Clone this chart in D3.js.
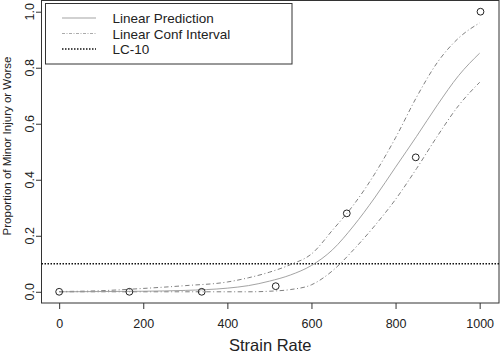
<!DOCTYPE html>
<html>
<head>
<meta charset="utf-8">
<script src="https://cdn.jsdelivr.net/npm/d3@7"></script>
<style>
  body { margin: 0; background: #fff; }
  svg { display: block; font-family: "Liberation Sans", Arial, sans-serif; }
</style>
</head>
<body>
<div id="chart"></div>
<script>
// strain grid the fitted curves were read at
var strainGrid = [0, 100, 200, 300, 400, 450, 500, 550, 600, 650, 700, 750, 800, 850, 900, 950, 1000];
var predicted = [0.000, 0.001, 0.002, 0.005, 0.013, 0.022, 0.038, 0.060, 0.094, 0.150, 0.235, 0.335, 0.445, 0.555, 0.668, 0.772, 0.852];
var upperCI = [0.001, 0.004, 0.012, 0.022, 0.035, 0.050, 0.070, 0.097, 0.135, 0.220, 0.310, 0.420, 0.550, 0.695, 0.820, 0.906, 0.960];
var lowerCI = [0.000, 0.000, 0.000, 0.000, 0.000, 0.000, 0.002, 0.008, 0.025, 0.075, 0.150, 0.235, 0.330, 0.440, 0.557, 0.665, 0.748];

// observed proportions
var obsStrain = [0, 167, 339, 515, 684, 848, 1002];
var obsProp = [0, 0, 0, 0.02, 0.28, 0.48, 1.0];

var lc10 = 0.1;

var xTicks = [0, 200, 400, 600, 800, 1000];
var yTicks = [0, 0.2, 0.4, 0.6, 0.8, 1.0];
var legendLabels = ["Linear Prediction", "Linear Conf Interval", "LC-10"];

var width = 500, height = 354;
var plotLeft = 41.5, plotRight = 499, plotTop = 0.5, plotBottom = 303;

var svg = d3.select('#chart')
  .append('svg')
  .attr('width', width)
  .attr('height', height);

var x = d3.scaleLinear().domain([-42, 1046]).range([plotLeft, plotRight]);
var y = d3.scaleLinear().domain([-0.04, 1.04]).range([plotBottom, plotTop]);

// axes
var xAxis = svg.append('g')
  .attr('transform', 'translate(0,' + plotBottom + ')')
  .call(d3.axisBottom(x).tickValues(xTicks).tickSize(6).tickPadding(10).tickFormat(d3.format('d')));
xAxis.select('.domain').remove();
xAxis.selectAll('line').attr('stroke', '#333');
xAxis.selectAll('text')
  .attr('font-size', '12.5px')
  .attr('fill', '#222')
  .attr('font-family', '"Liberation Sans", Arial, sans-serif');

var yAxis = svg.append('g')
  .attr('transform', 'translate(' + plotLeft + ',0)')
  .call(d3.axisLeft(y).tickValues(yTicks).tickSize(5.5).tickFormat(''));
yAxis.select('.domain').remove();
yAxis.selectAll('line').attr('stroke', '#333');

// rotated y tick labels, as R draws them
var yFmt = d3.format('.1f');
svg.selectAll('text.ylab')
  .data(yTicks)
  .enter()
  .append('text')
  .attr('class', 'ylab')
  .attr('transform', function (d) { return 'translate(33.5,' + y(d) + ') rotate(-90)'; })
  .attr('text-anchor', 'middle')
  .attr('font-size', '12.5px')
  .attr('fill', '#222')
  .text(function (d) { return yFmt(d); });

// plot box
svg.append('rect')
  .attr('x', plotLeft)
  .attr('y', plotTop)
  .attr('width', plotRight - plotLeft)
  .attr('height', plotBottom - plotTop)
  .attr('fill', 'none')
  .attr('stroke', '#333')
  .attr('stroke-width', 1);

// axis titles
svg.append('text')
  .attr('x', (plotLeft + plotRight) / 2)
  .attr('y', 351)
  .attr('text-anchor', 'middle')
  .attr('font-size', '16.5px')
  .attr('fill', '#222')
  .text('Strain Rate');

svg.append('text')
  .attr('transform', 'translate(11,146) rotate(-90)')
  .attr('text-anchor', 'middle')
  .attr('font-size', '11.5px')
  .attr('fill', '#222')
  .text('Proportion of Minor Injury or Worse');

// LC-10 line
svg.append('line')
  .attr('x1', plotLeft)
  .attr('x2', plotRight)
  .attr('y1', y(lc10))
  .attr('y2', y(lc10))
  .attr('stroke', '#111')
  .attr('stroke-width', 1.6)
  .attr('stroke-dasharray', '1.5,1.5');

var line = d3.line()
  .x(function (d) { return x(d[0]); })
  .y(function (d) { return y(d[1]); })
  .curve(d3.curveMonotoneX);

function pairs(vals) {
  return strainGrid.map(function (s, i) { return [s, vals[i]]; });
}

svg.append('path')
  .attr('d', line(pairs(upperCI)))
  .attr('fill', 'none')
  .attr('stroke', '#808080')
  .attr('stroke-width', 1)
  .attr('stroke-dasharray', '4.5,2.5,1,2.5');

svg.append('path')
  .attr('d', line(pairs(lowerCI)))
  .attr('fill', 'none')
  .attr('stroke', '#808080')
  .attr('stroke-width', 1)
  .attr('stroke-dasharray', '4.5,2.5,1,2.5');

svg.append('path')
  .attr('d', line(pairs(predicted)))
  .attr('fill', 'none')
  .attr('stroke', '#999')
  .attr('stroke-width', 0.9);

// observed points
svg.selectAll('circle.obs')
  .data(obsStrain)
  .enter()
  .append('circle')
  .attr('class', 'obs')
  .attr('cx', function (d) { return x(d); })
  .attr('cy', function (d, i) { return y(obsProp[i]); })
  .attr('r', 3.4)
  .attr('fill', 'none')
  .attr('stroke', '#222')
  .attr('stroke-width', 1);

// legend
var legend = svg.append('g');
legend.append('rect')
  .attr('x', 45.5)
  .attr('y', 3.5)
  .attr('width', 246.5)
  .attr('height', 60.5)
  .attr('fill', '#fff')
  .attr('stroke', '#333')
  .attr('stroke-width', 1);

var legendDash = [null, '3,1.5,1,1.5', '1.5,1.5'];
var legendColor = ['#999', '#aaa', '#111'];
var legendWidth = [0.9, 1, 1.6];

for (var i = 0; i < legendLabels.length; i++) {
  var ly = 18 + i * 15.5;
  legend.append('line')
    .attr('x1', 62)
    .attr('x2', 96)
    .attr('y1', ly)
    .attr('y2', ly)
    .attr('stroke', legendColor[i])
    .attr('stroke-width', legendWidth[i])
    .attr('stroke-dasharray', legendDash[i]);
  legend.append('text')
    .attr('x', 112.5)
    .attr('y', ly + 5)
    .attr('font-size', '13.5px')
    .attr('fill', '#222')
    .text(legendLabels[i]);
}
</script>
</body>
</html>
